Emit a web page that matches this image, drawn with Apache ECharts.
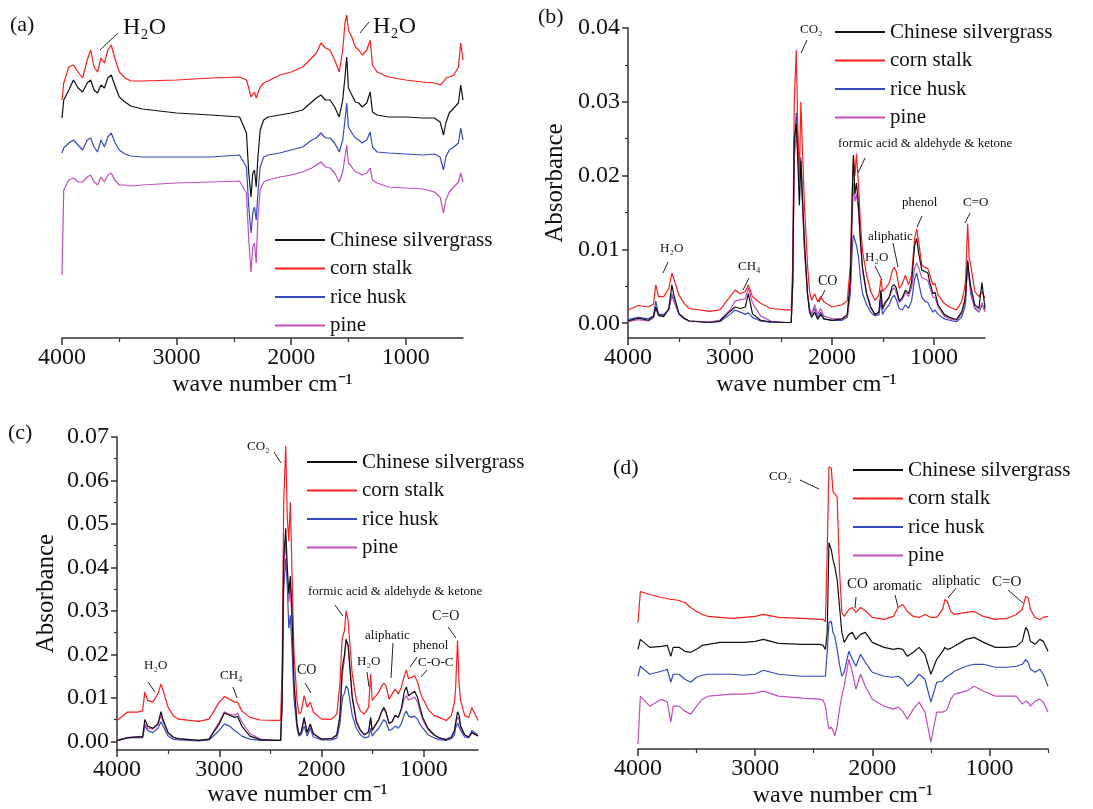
<!DOCTYPE html>
<html>
<head>
<meta charset="utf-8">
<script src="https://cdn.jsdelivr.net/npm/echarts@6/dist/echarts.min.js"></script>
<style>
  html, body { margin: 0; background: #fff; }
  #chart { width: 1093px; height: 809px; }
</style>
</head>
<body>
<div id="chart"></div>
<script>
// ---- panel (a): offset spectra, arbitrary units ----
const waveA = [4000,3985,3940,3900,3860,3820,3780,3750,3720,3690, 3660,3630,3600,3570,3540,3500,3450,3400,3300,3000,
  2700,2450,2390,2370,2350,2335,2320,2305,2290,2270, 2240,2200,2100,2000,1900,1820,1780,1740,1700,1660,
  1620,1580,1550,1530,1515,1500,1470,1440,1410,1380, 1340,1310,1290,1250,1150,1000,850,750,700,670,
  650,620,580,540,520,500]
const silverA = [220,238,248,258,250,246,255,258,248,245, 253,250,260,263,253,241,236,232,229,225,
  223,221,205,165,141,165,168,151,181,208, 218,221,223,225,228,236,240,243,238,238,
  231,221,238,261,281,250,243,236,235,231, 235,246,226,223,221,221,220,220,216,203,
  215,225,230,235,253,238]
const cornA = [238,255,271,273,266,260,278,288,271,266, 280,275,288,293,280,266,260,257,257,258,
  260,261,258,250,241,243,246,240,245,251, 255,257,263,266,271,280,285,295,290,288,
  278,266,288,315,323,308,301,291,288,283, 288,298,273,266,261,258,256,255,253,256,
  260,261,263,271,295,278]
const riceA = [185,190,195,198,193,188,198,200,191,186, 198,191,201,205,196,188,184,182,181,181,
  181,183,171,131,105,125,131,118,145,171, 181,183,185,188,191,198,200,205,200,200,
  195,186,198,218,235,211,205,200,198,195, 198,206,191,186,185,184,183,184,181,168,
  181,188,191,195,210,198]
const pineA = [63,148,158,160,156,156,161,163,156,153, 161,156,163,165,158,153,153,152,153,155,
  156,157,145,98,66,91,95,75,121,148, 156,158,161,163,166,170,173,176,171,170,
  165,156,166,181,193,175,171,166,165,163, 165,170,158,155,151,150,149,146,141,125,
  138,146,151,156,165,156]

// ---- panel (b): absorbance ----
const waveB = [4000,3900,3800,3750,3728,3700,3650,3600,3570,3550, 3500,3450,3400,3200,3100,3000,2950,2900,2850,2820,
  2780,2700,2600,2450,2400,2385,2370,2350,2335,2320, 2305,2290,2270,2240,2220,2200,2170,2140,2110,2080,
  2000,1900,1850,1820,1800,1790,1775,1760,1740,1720, 1700,1660,1620,1580,1540,1520,1505,1480,1440,1410,
  1390,1370,1340,1310,1280,1250,1220,1190,1170,1150, 1120,1090,1060,1040,1010,990,960,900,850,780,
  730,700,690,670,655,640,600,560,530,500]
const silverB = [0.0003,0.0007,0.0004,0.0009,0.0022,0.0011,0.0009,0.002,0.0052,0.0038,
  0.0013,0.0007,0.0003,0.0001,0.0003,0.0016,0.0022,0.002,0.0022,0.004,
  0.0013,0.0004,0.0002,0.0001,0.0001,0.0056,0.025,0.027,0.022,0.016,
  0.022,0.017,0.011,0.004,0.0015,0.0008,0.0015,0.0005,0.0012,0.0006,
  0.0004,0.0006,0.0012,0.006,0.018,0.0228,0.0175,0.019,0.016,0.011,
  0.0075,0.004,0.0022,0.0012,0.0015,0.0045,0.002,0.0028,0.0035,0.005,
  0.0052,0.0048,0.003,0.0035,0.0045,0.004,0.0055,0.0105,0.0115,0.0095,
  0.0072,0.007,0.0068,0.0055,0.004,0.0042,0.0025,0.0012,0.0008,0.0005,
  0.0015,0.003,0.004,0.0085,0.0065,0.005,0.0025,0.002,0.0055,0.002]
const cornB = [0.0018,0.0024,0.0022,0.0026,0.0052,0.0036,0.0036,0.0047,0.0068,0.006,
  0.0038,0.0027,0.002,0.0016,0.0018,0.0036,0.0045,0.004,0.0043,0.0052,
  0.0036,0.0027,0.002,0.0018,0.0018,0.008,0.03,0.037,0.026,0.02,
  0.03,0.0236,0.016,0.0079,0.0043,0.0031,0.004,0.0029,0.0036,0.0029,
  0.0022,0.0025,0.0031,0.0079,0.0186,0.0225,0.02,0.023,0.0186,0.0133,
  0.0097,0.0065,0.0043,0.0031,0.0038,0.006,0.0043,0.0047,0.0054,0.007,
  0.0076,0.007,0.0047,0.0054,0.0065,0.0052,0.0065,0.0115,0.0128,0.011,
  0.0079,0.0076,0.0074,0.0065,0.0052,0.0054,0.0038,0.0027,0.0022,0.0018,
  0.0029,0.0047,0.006,0.0135,0.0088,0.0079,0.0043,0.0036,0.0043,0.0034]
const riceB = [0.0005,0.0008,0.0006,0.001,0.003,0.0012,0.0012,0.0018,0.0038,0.003,
  0.0012,0.0006,0.0003,0.0001,0.0002,0.0012,0.0018,0.0015,0.0012,0.0014,
  0.0008,0.0003,0.0001,0.0001,0.0001,0.006,0.024,0.0285,0.025,0.02,
  0.0225,0.017,0.01,0.004,0.0018,0.0012,0.002,0.0008,0.0015,0.0006,
  0.0004,0.0004,0.0008,0.004,0.0105,0.012,0.0118,0.0105,0.009,0.006,
  0.004,0.0025,0.0015,0.001,0.0012,0.003,0.0012,0.0018,0.0025,0.0035,
  0.0038,0.0032,0.002,0.0018,0.0025,0.002,0.003,0.006,0.0068,0.0055,
  0.0035,0.003,0.0028,0.0022,0.0015,0.0018,0.0012,0.0006,0.0004,0.0002,
  0.0008,0.002,0.003,0.0085,0.006,0.004,0.002,0.0015,0.0025,0.0018]
const pineB = [0.0002,0.0005,0.0003,0.0007,0.002,0.001,0.001,0.0018,0.004,0.0032,
  0.0012,0.0006,0.0003,0.0002,0.0004,0.0018,0.003,0.0032,0.0033,0.0048,
  0.0028,0.001,0.0003,0.0001,0.0001,0.005,0.022,0.026,0.023,0.019,
  0.021,0.016,0.01,0.004,0.002,0.0012,0.0025,0.0012,0.002,0.001,
  0.0006,0.0006,0.001,0.005,0.015,0.019,0.0165,0.0175,0.015,0.0105,
  0.007,0.0038,0.002,0.0012,0.0014,0.004,0.0018,0.0026,0.0035,0.0045,
  0.0048,0.0042,0.0028,0.0032,0.0042,0.0036,0.0048,0.0075,0.0082,0.0075,
  0.0062,0.006,0.0058,0.0048,0.0035,0.0035,0.0022,0.001,0.0006,0.0004,
  0.0012,0.0028,0.0038,0.008,0.006,0.0045,0.0022,0.0015,0.0028,0.0015]

// ---- panel (c): absorbance ----
const waveC = [4000,3900,3800,3750,3728,3700,3650,3600,3570,3550, 3500,3450,3400,3200,3100,3000,2950,2900,2850,2820,
  2780,2700,2600,2450,2400,2385,2370,2350,2335,2320, 2305,2290,2270,2240,2220,2200,2170,2140,2110,2080,
  2000,1900,1850,1820,1800,1790,1775,1760,1740,1720, 1700,1660,1620,1580,1540,1520,1505,1480,1440,1410,
  1390,1370,1340,1310,1280,1250,1220,1190,1170,1150, 1120,1090,1060,1040,1010,990,960,900,850,780,
  730,700,690,670,655,640,600,560,530,470]
const silverC = [0.0002,0.0008,0.001,0.001,0.005,0.0035,0.003,0.004,0.0068,0.005,
  0.002,0.001,0.0006,0.0002,0.0005,0.004,0.0065,0.006,0.0055,0.0057,
  0.0035,0.0012,0.0004,0.0002,0.0002,0.01,0.042,0.049,0.04,0.034,
  0.038,0.03,0.014,0.004,0.0015,0.002,0.0055,0.002,0.004,0.0018,
  0.0005,0.0006,0.0015,0.006,0.016,0.018,0.02,0.0235,0.022,0.016,
  0.01,0.0045,0.0025,0.0015,0.0022,0.0055,0.0025,0.0035,0.005,0.007,
  0.0078,0.0068,0.0042,0.0045,0.006,0.0055,0.0075,0.0115,0.0125,0.0105,
  0.011,0.0115,0.01,0.008,0.0055,0.0045,0.003,0.0015,0.0008,0.0004,
  0.001,0.0025,0.004,0.0068,0.006,0.0035,0.0015,0.001,0.002,0.0012]
const cornC = [0.0048,0.0067,0.0067,0.007,0.0113,0.0094,0.009,0.0109,0.0132,0.0117,
  0.0078,0.0059,0.0051,0.0046,0.0051,0.009,0.0103,0.0097,0.009,0.009,
  0.007,0.0055,0.0049,0.0048,0.0048,0.017,0.055,0.068,0.0516,0.046,
  0.055,0.04,0.0209,0.0094,0.0063,0.0067,0.0105,0.0078,0.009,0.0067,
  0.0051,0.0051,0.0063,0.0132,0.0232,0.0243,0.0255,0.03,0.0278,0.0216,
  0.0155,0.0094,0.007,0.0063,0.0078,0.0155,0.0094,0.0101,0.0113,0.0128,
  0.0134,0.0128,0.0097,0.0109,0.012,0.0109,0.0124,0.0151,0.0164,0.0144,
  0.0147,0.0151,0.0136,0.0117,0.0097,0.009,0.0074,0.0059,0.0055,0.0048,
  0.0059,0.009,0.0117,0.0232,0.0132,0.0094,0.0059,0.0055,0.0078,0.0048]
const riceC = [0.0001,0.0008,0.0009,0.0008,0.0035,0.0025,0.002,0.003,0.0045,0.0035,
  0.0012,0.0005,0.0003,0.0001,0.0003,0.0025,0.004,0.0035,0.0025,0.002,
  0.0012,0.0005,0.0002,0.0002,0.0002,0.008,0.035,0.042,0.036,0.026,
  0.029,0.022,0.01,0.003,0.0012,0.0015,0.0035,0.0012,0.003,0.001,
  0.0003,0.0003,0.0008,0.004,0.009,0.0105,0.011,0.0128,0.012,0.009,
  0.006,0.003,0.0015,0.0008,0.001,0.003,0.0012,0.002,0.003,0.0042,
  0.005,0.0045,0.0025,0.0028,0.0035,0.003,0.004,0.0062,0.007,0.0058,
  0.0055,0.0058,0.005,0.004,0.003,0.0025,0.0015,0.0008,0.0004,0.0002,
  0.0006,0.0015,0.003,0.0042,0.004,0.0025,0.001,0.0008,0.0025,0.0015]
const pineC = [0.0001,0.0009,0.001,0.001,0.004,0.003,0.0028,0.0038,0.006,0.0045,
  0.0018,0.0009,0.0005,0.0002,0.0005,0.0045,0.0068,0.0062,0.006,0.0065,
  0.0045,0.0018,0.0005,0.0002,0.0002,0.009,0.04,0.046,0.038,0.032,
  0.036,0.028,0.013,0.0038,0.0015,0.002,0.005,0.002,0.0038,0.0016,
  0.0005,0.0006,0.0014,0.0055,0.014,0.0165,0.019,0.0232,0.0222,0.0165,
  0.0105,0.0048,0.0026,0.0015,0.0022,0.0052,0.0025,0.0035,0.005,0.0068,
  0.0075,0.0065,0.004,0.0045,0.006,0.0055,0.0072,0.0098,0.0105,0.0095,
  0.0098,0.0102,0.009,0.0072,0.005,0.004,0.0028,0.0014,0.0008,0.0004,
  0.001,0.0025,0.004,0.0055,0.005,0.003,0.0014,0.001,0.002,0.0012]

// ---- panel (d): offset spectra, arbitrary units ----
const waveD = [4000,3980,3900,3800,3750,3720,3700,3650,3600,3550, 3500,3450,3400,3300,3200,3100,3000,2930,2800,2600,
  2450,2420,2400,2385,2370,2350,2335,2320,2300,2280, 2260,2240,2200,2170,2140,2100,2060,2000,1900,1820,
  1780,1740,1700,1650,1600,1550,1500,1450,1400,1380, 1360,1330,1300,1200,1130,1050,950,850,770,720,
  690,670,650,610,570,540,500]
const silverD = [100,110,102,103,104,93,102,102,98,97, 100,104,105,107,107,107,108,110,106,105,
  105,104,100,117,207,200,190,183,170,143, 117,107,115,117,110,115,117,107,102,100,
  101,100,93,97,102,95,75,90,98,102, 100,101,103,110,112,107,102,102,103,108,
  122,118,108,105,110,108,98]
const cornD = [127,158,155,152,151,150,150,149,147,142, 138,135,133,132,131,132,133,135,132,131,
  130,130,128,197,283,282,258,258,253,180, 137,133,140,142,137,142,139,132,130,133,
  142,145,138,133,132,135,132,132,140,150, 148,138,135,137,138,133,130,131,135,140,
  153,152,140,132,130,132,133]
const riceD = [73,83,75,78,80,67,75,75,70,67, 72,74,75,75,75,74,75,79,75,73,
  73,73,73,97,127,128,117,113,100,85, 73,77,98,90,83,95,87,77,73,72,
  73,70,63,68,75,70,47,67,68,71, 73,75,78,83,85,85,82,82,83,85,
  90,87,80,77,80,75,63]
const pineD = [5,53,43,50,47,27,43,43,38,35, 43,50,53,54,55,55,56,58,53,51,
  50,49,43,30,20,22,18,13,23,40, 53,63,90,77,60,75,63,50,43,40,
  42,38,30,40,47,37,7,37,37,38, 40,50,55,58,63,58,53,53,53,45,
  48,47,43,48,50,47,37]

const names = ['Chinese silvergrass', 'corn stalk', 'rice husk', 'pine']
const colors = {'Chinese silvergrass': '#111111', 'corn stalk': '#ff1c1c', 'rice husk': '#3549c0', 'pine': '#c24dbd'}
const xMajor = [4000, 3000, 2000, 1000]
const xMinor = [3500, 2500, 1500]
const yMajorB = [0, 0.01, 0.02, 0.03, 0.04]
const yMinorB = [0.005, 0.015, 0.025, 0.035]
const yMajorC = [0, 0.01, 0.02, 0.03, 0.04, 0.05, 0.06, 0.07]
const yMinorC = [0.005, 0.015, 0.025, 0.035, 0.045, 0.055, 0.065]

const serif = 'Liberation Serif, Times New Roman, serif'
const axisColor = '#333'

const panels = [
  {wave: waveA, sets: {'Chinese silvergrass': silverA, 'corn stalk': cornA, 'rice husk': riceA, 'pine': pineA}},
  {wave: waveB, sets: {'Chinese silvergrass': silverB, 'corn stalk': cornB, 'rice husk': riceB, 'pine': pineB}},
  {wave: waveC, sets: {'Chinese silvergrass': silverC, 'corn stalk': cornC, 'rice husk': riceC, 'pine': pineC}},
  {wave: waveD, sets: {'Chinese silvergrass': silverD, 'corn stalk': cornD, 'rice husk': riceD, 'pine': pineD}}
]

function mainX(grid, min, nameGap) {
  return {
    type: 'value', gridIndex: grid, min: min, max: 4000, inverse: true, position: 'bottom',
    axisLine: {show: true, onZero: false, lineStyle: {color: axisColor, width: 1.5}},
    axisTick: {show: true, customValues: xMajor, length: 7, lineStyle: {color: axisColor, width: 1.5}},
    axisLabel: {customValues: xMajor, margin: 8, fontFamily: serif, fontSize: 24, color: '#111',
      formatter: v => String(v)},
    splitLine: {show: false},
    name: 'wave number cm⁻¹', nameLocation: 'middle', nameGap: nameGap,
    nameTextStyle: {fontFamily: serif, fontSize: 24, color: '#111'}
  }
}
function minorX(grid, min, ticks) {
  return {
    type: 'value', gridIndex: grid, min: min, max: 4000, inverse: true, position: 'bottom',
    axisLine: {show: false, onZero: false},
    axisTick: {show: true, customValues: ticks, length: 4, lineStyle: {color: axisColor, width: 1.2}},
    axisLabel: {show: false}, splitLine: {show: false}
  }
}
function mainY(grid, min, max, major, nameGap) {
  return {
    type: 'value', gridIndex: grid, min: min, max: max, position: 'left',
    axisLine: {show: true, lineStyle: {color: axisColor, width: 1.5}},
    axisTick: {show: true, customValues: major, length: 6, lineStyle: {color: axisColor, width: 1.5}},
    axisLabel: {customValues: major, margin: 8, fontFamily: serif, fontSize: 24, color: '#111',
      formatter: v => v.toFixed(2)},
    splitLine: {show: false},
    name: 'Absorbance', nameLocation: 'middle', nameRotate: 90, nameGap: nameGap,
    nameTextStyle: {fontFamily: serif, fontSize: 25, color: '#111'}
  }
}
function minorY(grid, min, max, ticks) {
  return {
    type: 'value', gridIndex: grid, min: min, max: max, position: 'left',
    axisLine: {show: false},
    axisTick: {show: true, customValues: ticks, length: 3, lineStyle: {color: axisColor, width: 1.2}},
    axisLabel: {show: false}, splitLine: {show: false}
  }
}
function hiddenY(grid, max) {
  return {type: 'value', gridIndex: grid, min: 0, max: max, show: false}
}

function legendAt(left, top) {
  return {
    data: names, orient: 'vertical', left: left, top: top, padding: 0,
    icon: 'rect', itemWidth: 50, itemHeight: 2, itemGap: 7.5, selectedMode: false,
    textStyle: {fontFamily: serif, fontSize: 21, color: '#111'}
  }
}

function note(x, y, text, size) {
  return {type: 'text', x: x, y: y, silent: true,
    style: {text: text, fontFamily: serif, fontSize: size, fill: '#111', align: 'left', verticalAlign: 'middle'}}
}
function lead(x1, y1, x2, y2) {
  return {type: 'line', silent: true, shape: {x1: x1, y1: y1, x2: x2, y2: y2},
    style: {stroke: '#222', lineWidth: 1}}
}

const drawOrder = ['rice husk', 'pine', 'corn stalk', 'Chinese silvergrass']
const series = []
panels.forEach((p, gi) => {
  drawOrder.forEach(n => {
    series.push({
      type: 'line', name: n, xAxisIndex: gi, yAxisIndex: gi,
      data: p.wave.map((w, i) => [w, p.sets[n][i]]),
      symbol: 'none', smooth: false, animation: false,
      lineStyle: {width: 1.2, color: colors[n]},
      itemStyle: {color: colors[n]}
    })
  })
})

const option = {
  backgroundColor: '#fff',
  animation: false,
  grid: [
    {left: 62, right: 630, top: 8, bottom: 471},
    {left: 628, right: 108, top: 28, bottom: 471},
    {left: 117, right: 615, top: 437, bottom: 59},
    {left: 638, right: 45, top: 450, bottom: 59}
  ],
  xAxis: [
    mainX(0, 500, 35), mainX(1, 500, 35), mainX(2, 470, 31), mainX(3, 500, 35),
    minorX(0, 500, xMinor), minorX(1, 500, xMinor), minorX(2, 470, xMinor), minorX(3, 500, [3500, 2500, 1500, 500])
  ],
  yAxis: [
    hiddenY(0, 330),
    mainY(1, -0.002, 0.04, yMajorB, 60),
    mainY(2, -0.002, 0.07, yMajorC, 58),
    hiddenY(3, 300),
    minorY(1, -0.002, 0.04, yMinorB),
    minorY(2, -0.002, 0.07, yMinorC)
  ],
  legend: [legendAt(275, 229.5), legendAt(835, 21.5), legendAt(307, 451.5), legendAt(853, 459.5)],
  graphic: [
    note(10, 25, '(a)', 22), note(538, 17, '(b)', 22), note(8, 433, '(c)', 22), note(613, 468, '(d)', 22),
    // (a)
    note(123, 28, 'H₂O', 24), lead(100, 50, 118, 33),
    note(373, 27, 'H₂O', 24), lead(360, 33, 369, 22),
    // (b)
    note(800, 30, 'CO₂', 13), lead(801, 53, 807, 40),
    note(838, 144, 'formic acid & aldehyde & ketone', 13), lead(858, 173, 865, 158),
    note(902, 203, 'phenol', 13), lead(917, 227, 922, 216),
    note(963, 203, 'C=O', 13), lead(965, 223, 970, 213),
    note(868, 237, 'aliphatic', 13), lead(893, 243, 898, 267),
    note(865, 258, 'H₂O', 13), lead(875, 266, 882, 280),
    note(660, 249, 'H₂O', 13), lead(663, 273, 668, 262),
    note(738, 267, 'CH₄', 13), lead(743, 290, 749, 278),
    note(818, 281, 'CO', 14), lead(819, 302, 825, 290),
    // (c)
    note(247, 447, 'CO₂', 13), lead(274, 452, 281, 463),
    note(308, 592, 'formic acid & aldehyde & ketone', 13), lead(335, 605, 343, 616),
    note(432, 616, 'C=O', 14), lead(448, 627, 456, 638),
    note(365, 636, 'aliphatic', 13), lead(393, 643, 391, 678),
    note(413, 646, 'phenol', 13), lead(410, 667, 417, 657),
    note(418, 663, 'C-O-C', 13), lead(421, 677, 427, 670),
    note(357, 662, 'H₂O', 13), lead(367, 672, 369, 687),
    note(297, 670, 'CO', 14), lead(305, 683, 311, 693),
    note(220, 676, 'CH₄', 13), lead(233, 687, 237, 698),
    note(144, 666, 'H₂O', 13), lead(148, 682, 155, 692),
    // (d)
    note(769, 477, 'CO₂', 13), lead(800, 480, 819, 489),
    note(847, 584, 'CO', 15), lead(856, 597, 855, 608),
    note(873, 586, 'aromatic', 14), lead(895, 595, 898, 607),
    note(932, 581, 'aliphatic', 14), lead(956, 588, 948, 598),
    note(992, 582, 'C=O', 15), lead(1008, 590, 1023, 603)
  ],
  series: series
}

const myChart = echarts.init(document.getElementById('chart'), null, {renderer: 'canvas'})
myChart.setOption(option)
</script>
</body>
</html>
